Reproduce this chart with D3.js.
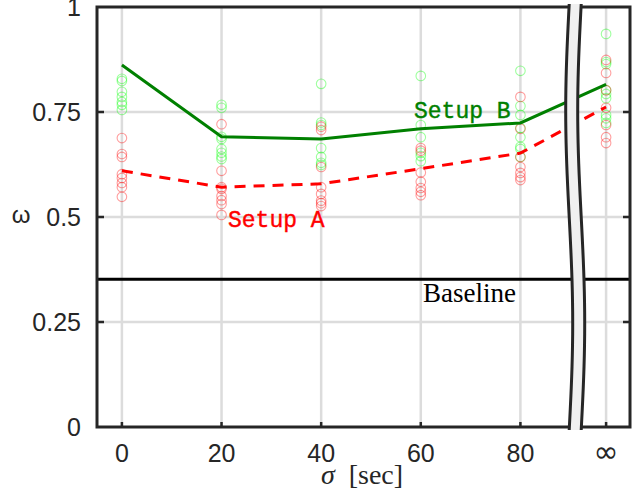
<!DOCTYPE html>
<html>
<head>
<meta charset="utf-8">
<script src="https://cdn.jsdelivr.net/npm/d3@7"></script>
<style>
  body { margin: 0; background: #fff; }
  svg { display: block; }
</style>
</head>
<body>
<script>
// categories on the x axis (the last one is "infinity")
var sigmaCats = [0, 20, 40, 60, 80, Infinity];
var sigmaLabels = ['0', '20', '40', '60', '80', '\u221e'];
var yTicks = [0, 0.25, 0.5, 0.75, 1];
var yTickLabels = ['0', '0.25', '0.5', '0.75', '1'];

// mean curves
var setupA = [0.610, 0.571, 0.579, 0.615, 0.652, 0.762];
var setupB = [0.862, 0.691, 0.686, 0.710, 0.724, 0.816];
var baseline = 0.352;

// individual runs per category
var runsA = [
  [0.688, 0.650, 0.643, 0.602, 0.593, 0.581, 0.571, 0.548],
  [0.721, 0.610, 0.571, 0.567, 0.550, 0.540, 0.531, 0.505],
  [0.715, 0.707, 0.619, 0.571, 0.555, 0.539, 0.533, 0.526],
  [0.664, 0.658, 0.606, 0.584, 0.569, 0.560, 0.552],
  [0.786, 0.710, 0.643, 0.619, 0.605, 0.595, 0.588],
  [0.874, 0.843, 0.802, 0.760, 0.719, 0.690, 0.676]
];
var runsB = [
  [0.829, 0.824, 0.798, 0.786, 0.774, 0.767, 0.755],
  [0.767, 0.760, 0.691, 0.686, 0.662, 0.653, 0.644, 0.638],
  [0.817, 0.725, 0.719, 0.664, 0.643, 0.629, 0.624],
  [0.836, 0.719, 0.690, 0.653, 0.645, 0.633],
  [0.848, 0.764, 0.743, 0.712, 0.690, 0.667, 0.662, 0.643],
  [0.936, 0.869, 0.864, 0.802, 0.793, 0.783, 0.743, 0.735, 0.724]
];

var W = 640, H = 495;
var pL = 97, pR = 630, pT = 7, pB = 427;
var INF_AT = 97.2;   // where "infinity" sits on the broken axis
var BREAK_AT = 91;   // where the axis break is drawn
var axisCol = '#262626';

var xs = d3.scaleLinear().domain([-5, 102]).range([pL, pR]);
var x = function(v) { return xs(v === Infinity ? INF_AT : v); };
var y = d3.scaleLinear().domain([0, 1]).range([pB, pT]);

var svg = d3.select('body').append('svg')
  .attr('width', W).attr('height', H);

svg.append('rect').attr('width', W).attr('height', H).attr('fill', '#fff');

// grid
var grid = svg.append('g').attr('stroke', '#dcdcdc').attr('stroke-width', 2.5);
grid.selectAll('.gx').data(sigmaCats).enter().append('line')
  .attr('x1', function(d) { return x(d); }).attr('x2', function(d) { return x(d); })
  .attr('y1', pT).attr('y2', pB);
grid.selectAll('.gy').data(yTicks.slice(1, -1)).enter().append('line')
  .attr('x1', pL).attr('x2', pR)
  .attr('y1', function(d) { return y(d); }).attr('y2', function(d) { return y(d); });

// scatter of runs
function drawRuns(runs, col) {
  var pts = [];
  runs.forEach(function(arr, i) {
    arr.forEach(function(v) { pts.push({c: sigmaCats[i], v: v}); });
  });
  svg.append('g').selectAll('circle').data(pts).enter().append('circle')
    .attr('cx', function(d) { return x(d.c); })
    .attr('cy', function(d) { return y(d.v); })
    .attr('r', 4.8)
    .attr('fill', 'none')
    .attr('stroke', col)
    .attr('stroke-opacity', 0.38)
    .attr('stroke-width', 1.1);
}
drawRuns(runsB, '#00ff00');
drawRuns(runsA, '#ff0000');

// mean lines
var line = d3.line()
  .x(function(d, i) { return x(sigmaCats[i]); })
  .y(function(d) { return y(d); });

svg.append('path').datum(setupB)
  .attr('d', line).attr('fill', 'none')
  .attr('stroke', '#008000').attr('stroke-width', 3);
svg.append('path').datum(setupA)
  .attr('d', line).attr('fill', 'none')
  .attr('stroke', '#ff0000').attr('stroke-width', 3)
  .attr('stroke-dasharray', '11,8');

// baseline
svg.append('line')
  .attr('x1', pL).attr('x2', pR)
  .attr('y1', y(baseline)).attr('y2', y(baseline))
  .attr('stroke', '#000').attr('stroke-width', 3);

// labels inside plot
svg.append('text').attr('x', 228).attr('y', 227)
  .attr('font-family', 'Liberation Mono, monospace').attr('font-size', 23)
  .attr('stroke', '#ff0000').attr('stroke-width', 0.4)
  .attr('fill', '#ff0000').text('Setup A');
svg.append('text').attr('x', 414).attr('y', 118)
  .attr('font-family', 'Liberation Mono, monospace').attr('font-size', 23)
  .attr('stroke', '#008000').attr('stroke-width', 0.4)
  .attr('fill', '#008000').text('Setup B');
svg.append('text').attr('x', 423).attr('y', 302)
  .attr('font-family', 'Liberation Serif, serif').attr('font-size', 27)
  .attr('fill', '#000').text('Baseline');

// box and ticks
svg.append('rect').attr('x', pL).attr('y', pT)
  .attr('width', pR - pL).attr('height', pB - pT)
  .attr('fill', 'none').attr('stroke', axisCol).attr('stroke-width', 3);

var ticks = svg.append('g').attr('stroke', axisCol).attr('stroke-width', 2.5);
ticks.selectAll('.tl').data(yTicks.slice(1, -1)).enter().append('line')
  .attr('x1', pL).attr('x2', pL + 7)
  .attr('y1', function(d) { return y(d); }).attr('y2', function(d) { return y(d); });
ticks.selectAll('.tr').data(yTicks.slice(1, -1)).enter().append('line')
  .attr('x1', pR - 7).attr('x2', pR)
  .attr('y1', function(d) { return y(d); }).attr('y2', function(d) { return y(d); });
ticks.selectAll('.tb').data(sigmaCats).enter().append('line')
  .attr('x1', function(d) { return x(d); }).attr('x2', function(d) { return x(d); })
  .attr('y1', pB - 5).attr('y2', pB);

// axis break
var bx = xs(BREAK_AT);
var breakPts = d3.range(0, 41).map(function(i) { return i / 40; });
var wave = function(t) { return bx - 3.5 * Math.sin(2 * Math.PI * t); };
var by = d3.scaleLinear().domain([0, 1]).range([pT - 3, pB + 3]);
var edgeL = d3.line().x(function(t) { return wave(t) - 6; }).y(function(t) { return by(t); });
var edgeR = d3.line().x(function(t) { return wave(t) + 6; }).y(function(t) { return by(t); });
var band = d3.area()
  .x0(function(t) { return wave(t) - 6; })
  .x1(function(t) { return wave(t) + 6; })
  .y(function(t) { return by(t); });
svg.append('path').datum(breakPts).attr('d', band).attr('fill', '#f0f0f0');
svg.append('path').datum(breakPts).attr('d', edgeL)
  .attr('fill', 'none').attr('stroke', axisCol).attr('stroke-width', 3);
svg.append('path').datum(breakPts).attr('d', edgeR)
  .attr('fill', 'none').attr('stroke', axisCol).attr('stroke-width', 3);

// tick labels
svg.append('g').selectAll('text').data(yTicks).enter().append('text')
  .attr('x', 81).attr('y', function(d) { return y(d); })
  .attr('dy', '0.36em')
  .attr('text-anchor', 'end')
  .attr('font-family', 'Liberation Sans, Arial, sans-serif').attr('font-size', 25)
  .attr('fill', axisCol)
  .text(function(d, i) { return yTickLabels[i]; });

svg.append('g').selectAll('text').data(sigmaCats).enter().append('text')
  .attr('x', function(d) { return x(d); }).attr('y', 462)
  .attr('text-anchor', 'middle')
  .attr('font-family', function(d) { return d === Infinity ? 'DejaVu Sans, sans-serif' : 'Liberation Sans, Arial, sans-serif'; })
  .attr('font-size', function(d) { return d === Infinity ? 30 : 25; })
  .attr('fill', axisCol)
  .text(function(d, i) { return sigmaLabels[i]; });

// axis titles
var xt = svg.append('text').attr('x', 362).attr('y', 484)
  .attr('text-anchor', 'middle')
  .attr('font-family', 'Liberation Serif, serif').attr('font-size', 28)
  .attr('fill', axisCol);
xt.append('tspan').attr('font-style', 'italic').text('\u03c3');
xt.append('tspan').text('\u2002[sec]');

svg.append('text').attr('x', 21).attr('y', 218).attr('dy', '0.2em')
  .attr('text-anchor', 'middle')
  .attr('font-family', 'Liberation Sans, Arial, sans-serif').attr('font-size', 24)
  .attr('fill', axisCol).text('\u03c9');
</script>
</body>
</html>
